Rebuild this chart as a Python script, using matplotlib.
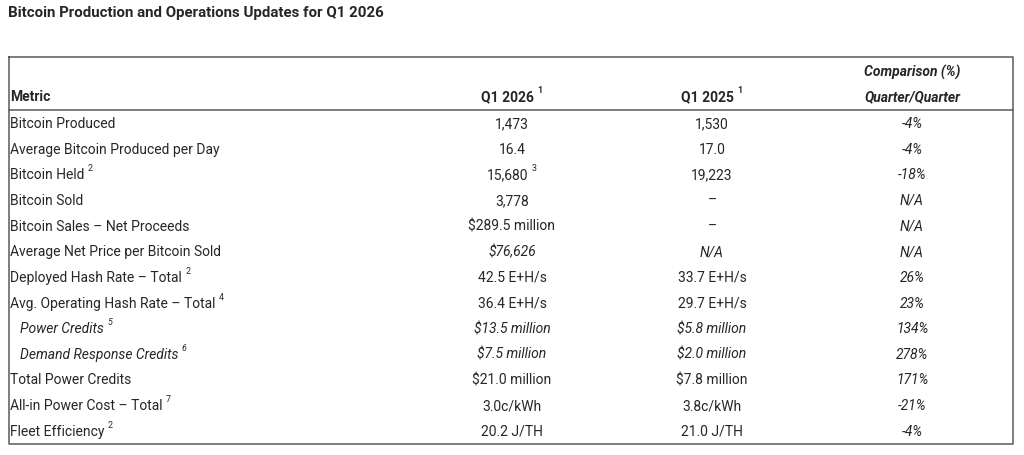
import matplotlib
matplotlib.use("Agg")
import matplotlib.pyplot as plt

plt.rcParams['font.family'] = ['Roboto', 'DejaVu Sans']

TITLE = "Bitcoin Production and Operations Updates for Q1 2026"

metrics = ["Bitcoin Produced", "Average Bitcoin Produced per Day", "Bitcoin Held",
           "Bitcoin Sold", "Bitcoin Sales \u2013 Net Proceeds", "Average Net Price per Bitcoin Sold",
           "Deployed Hash Rate \u2013 Total", "Avg. Operating Hash Rate \u2013 Total",
           "Power Credits", "Demand Response Credits", "Total Power Credits",
           "All-in Power Cost \u2013 Total", "Fleet Efficiency"]
metric_notes = ["", "", "2", "", "", "", "2", "4", "5", "6", "", "7", "2"]

q1_2026 = ["1,473", "16.4", "15,680", "3,778", "$289.5 million", "$76,626",
           "42.5 E+H/s", "36.4 E+H/s", "$13.5 million", "$7.5 million",
           "$21.0 million", "3.0c/kWh", "20.2 J/TH"]
q1_2026_notes = ["", "", "3", "", "", "", "", "", "", "", "", "", ""]

q1_2025 = ["1,530", "17.0", "19,223", "\u2013", "\u2013", "N/A",
           "33.7 E+H/s", "29.7 E+H/s", "$5.8 million", "$2.0 million",
           "$7.8 million", "3.8c/kWh", "21.0 J/TH"]

comparison = ["-4%", "-4%", "-18%", "N/A", "N/A", "N/A", "26%", "23%",
              "134%", "278%", "171%", "-21%", "-4%"]

# rows drawn in italics (label column included) / indented sub rows
italic_rows = [8, 9]
italic_value_rows = [5, 8, 9]

TEXT = "#262626"
LINE = "#5a5a5a"

fig = plt.figure(figsize=(10.24, 4.56), dpi=100)
ax = fig.add_axes([0, 0, 1, 1])
ax.set_xlim(0, 1024)
ax.set_ylim(456, 0)
ax.axis("off")
renderer = fig.canvas.get_renderer()

FS = 10.0
SUP = 6.4

ax.text(8, 13, TITLE, fontsize=10.8, fontweight="bold", color=TEXT, va="center", ha="left")

# table frame
left, right, top, bottom = 8.5, 1012.5, 58, 445.5
ax.plot([left, right, right, left, left], [top, top, bottom, bottom, top], color=LINE, lw=1.1)
ax.plot([left, right], [111, 111], color=LINE, lw=1.1)

col_x = [10, 512, 712, 912]
row_y0, row_h = 124, 25.65


def width_of(t):
    return t.get_window_extent(renderer).width


def put(x, y, s, note="", ha="left", fontweight="normal", **kw):
    """text with an optional raised footnote mark, ha = left or center of the whole"""
    t = ax.text(x, y, s, fontsize=FS, color=TEXT, va="center", ha="left",
                fontweight=fontweight, **kw)
    if not note:
        if ha == "center":
            t.set_ha("center")
        return
    gap = 3.5
    sup = ax.text(0, y - 6.5, note, fontsize=SUP, color=TEXT, va="center", ha="left",
                  style=kw.get("style", "normal"), fontweight=fontweight)
    w_main = width_of(t)
    w_sup = width_of(sup)
    x0 = x - (w_main + gap + w_sup) / 2 if ha == "center" else x
    t.set_x(x0)
    sup.set_x(x0 + w_main + gap)


# header
put(col_x[0], 97, "Metric", fontweight="bold")
put(col_x[1], 97, "Q1 2026", "1", ha="center", fontweight="bold")
put(col_x[2], 97, "Q1 2025", "1", ha="center", fontweight="bold")
put(col_x[3], 72, "Comparison (%)", ha="center", fontweight="bold", style="italic")
put(col_x[3], 97, "Quarter/Quarter", ha="center", fontweight="bold", style="italic")

for i, name in enumerate(metrics):
    y = row_y0 + i * row_h
    lab_style = "italic" if i in italic_rows else "normal"
    lab_x = col_x[0] + 10 if i in italic_rows else col_x[0]
    val_style = "italic" if i in italic_value_rows else "normal"
    put(lab_x, y, name, metric_notes[i], style=lab_style)
    put(col_x[1], y, q1_2026[i], q1_2026_notes[i], ha="center", style=val_style)
    put(col_x[2], y, q1_2025[i], ha="center", style=val_style)
    put(col_x[3], y, comparison[i], ha="center", style="italic")

fig.savefig("out.png", dpi=100)
